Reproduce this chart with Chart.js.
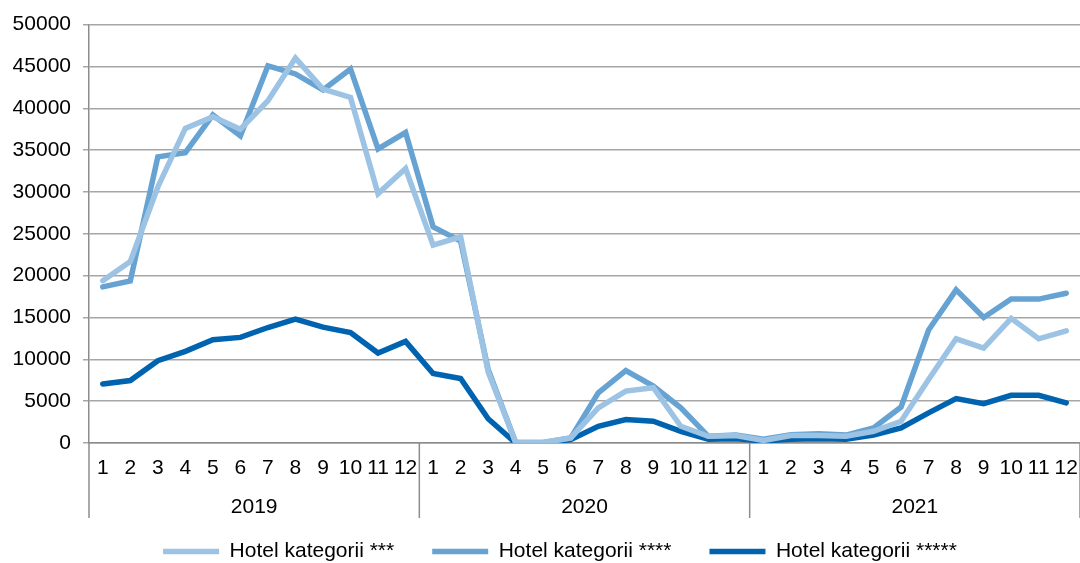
<!DOCTYPE html>
<html>
<head>
<meta charset="utf-8">
<script src="https://cdn.jsdelivr.net/npm/chart.js@4.4.0/dist/chart.umd.min.js"></script>
<style>
  html, body { margin: 0; padding: 0; background: #fff; }
  #wrap { width: 1080px; height: 563px; position: relative; }
</style>
</head>
<body>
<div id="wrap"><canvas id="chart"></canvas></div>
<script>
// months per year, years shown under the axis
const months = ['1', '2', '3', '4', '5', '6', '7', '8', '9', '10', '11', '12'];
const years = ['2019', '2020', '2021'];
const yTicks = [0, 5000, 10000, 15000, 20000, 25000, 30000, 35000, 40000, 45000, 50000];

// values, 2019-01 .. 2021-12
const hotel3 = [19400, 21700, 30600, 37600, 39000, 37500, 40900, 46000, 42300, 41300, 29800, 32800,
                23650, 24640, 8500, 50, 50, 600, 4200, 6200, 6600, 2000, 800, 900,
                300, 900, 900, 800, 1400, 2600, 7600, 12450, 11350, 14900, 12450, 13400];
const hotel4 = [18650, 19370, 34200, 34700, 39200, 36700, 45080, 44100, 42200, 44700, 35150, 37100,
                25830, 24130, 8800, 50, 50, 600, 6000, 8650, 6800, 4200, 800, 950,
                450, 1000, 1100, 950, 1800, 4300, 13500, 18300, 15000, 17200, 17200, 17900];
const hotel5 = [7060, 7460, 9840, 10950, 12340, 12620, 13800, 14800, 13850, 13200, 10750, 12140,
                8300, 7700, 2900, 0, 0, 400, 2000, 2800, 2600, 1400, 450, 500,
                250, 450, 500, 450, 950, 1800, 3600, 5300, 4700, 5700, 5700, 4800];

const labels = [];
years.forEach(() => months.forEach(m => labels.push(m)));

const FONT = "'Liberation Sans', Arial, sans-serif";
Chart.defaults.font.family = FONT;
Chart.defaults.font.size = 21;
Chart.defaults.color = '#000';

// year separators and year labels under the month labels
const yearAxis = {
    id: 'yearAxis',
    afterLayout(chart) {
        // legend sits a little right of centre in the original
        chart.legend.left += 18;
        chart.legend.right += 18;
    },
    afterDraw(chart) {
        const ctx = chart.ctx;
        const x = chart.scales.x;
        const area = chart.chartArea;
        const step = x.getPixelForValue(1) - x.getPixelForValue(0);
        ctx.save();
        ctx.strokeStyle = '#8c8c8c';
        ctx.lineWidth = 1.5;
        for (let i = 0; i <= years.length; i++) {
            const px = x.getPixelForValue(i * 12) - step / 2;
            ctx.beginPath();
            ctx.moveTo(px, area.bottom);
            ctx.lineTo(px, 518);
            ctx.stroke();
        }
        ctx.fillStyle = '#000';
        ctx.font = '21px ' + FONT;
        ctx.textAlign = 'center';
        ctx.textBaseline = 'middle';
        years.forEach((yr, i) => {
            const px = (x.getPixelForValue(i * 12) + x.getPixelForValue(i * 12 + 11)) / 2;
            ctx.fillText(yr, px, 507);
        });
        ctx.restore();
    }
};

const ctx = document.getElementById('chart').getContext('2d');
new Chart(ctx, {
    type: 'line',
    data: {
        labels: labels,
        datasets: [
            {
                label: 'Hotel kategorii ***',
                data: hotel3,
                borderColor: '#9cc3e4',
                backgroundColor: '#9cc3e4',
            },
            {
                label: 'Hotel kategorii ****',
                data: hotel4,
                borderColor: '#66a3d3',
                backgroundColor: '#66a3d3',
            },
            {
                label: 'Hotel kategorii *****',
                data: hotel5,
                borderColor: '#0063b0',
                backgroundColor: '#0063b0',
            }
        ].map(d => Object.assign(d, {
            borderWidth: 5.5,
            pointRadius: 0,
            tension: 0,
            borderCapStyle: 'round',
            fill: false
        }))
    },
    options: {
        responsive: true,
        maintainAspectRatio: false,
        animation: false,
        layout: {
            padding: { top: 5, left: 0, right: -4, bottom: -9 }
        },
        plugins: {
            legend: {
                position: 'bottom',
                labels: {
                    usePointStyle: true,
                    pointStyle: 'line',
                    pointStyleWidth: 56,
                    padding: 38,
                    color: '#000',
                    font: { size: 21 }
                }
            },
            tooltip: { enabled: false }
        },
        scales: {
            x: {
                offset: true,
                grid: { display: false },
                border: { color: '#8c8c8c', width: 1.5 },
                ticks: {
                    autoSkip: false,
                    maxRotation: 0,
                    minRotation: 0,
                    padding: 5
                },
                afterFit: s => {
                    s.height = 60;
                    s.paddingLeft = 0;
                    s.paddingRight = 0;
                }
            },
            y: {
                min: 0,
                max: 50000,
                afterBuildTicks: s => { s.ticks = yTicks.map(v => ({ value: v })); },
                grid: { color: '#a6a6a6', lineWidth: 1.5, tickLength: 6 },
                border: { color: '#8c8c8c', width: 1.5 },
                ticks: { padding: 12, callback: v => String(v) },
                afterFit: s => { s.width = 89; }
            }
        }
    },
    plugins: [yearAxis]
});
</script>
</body>
</html>
